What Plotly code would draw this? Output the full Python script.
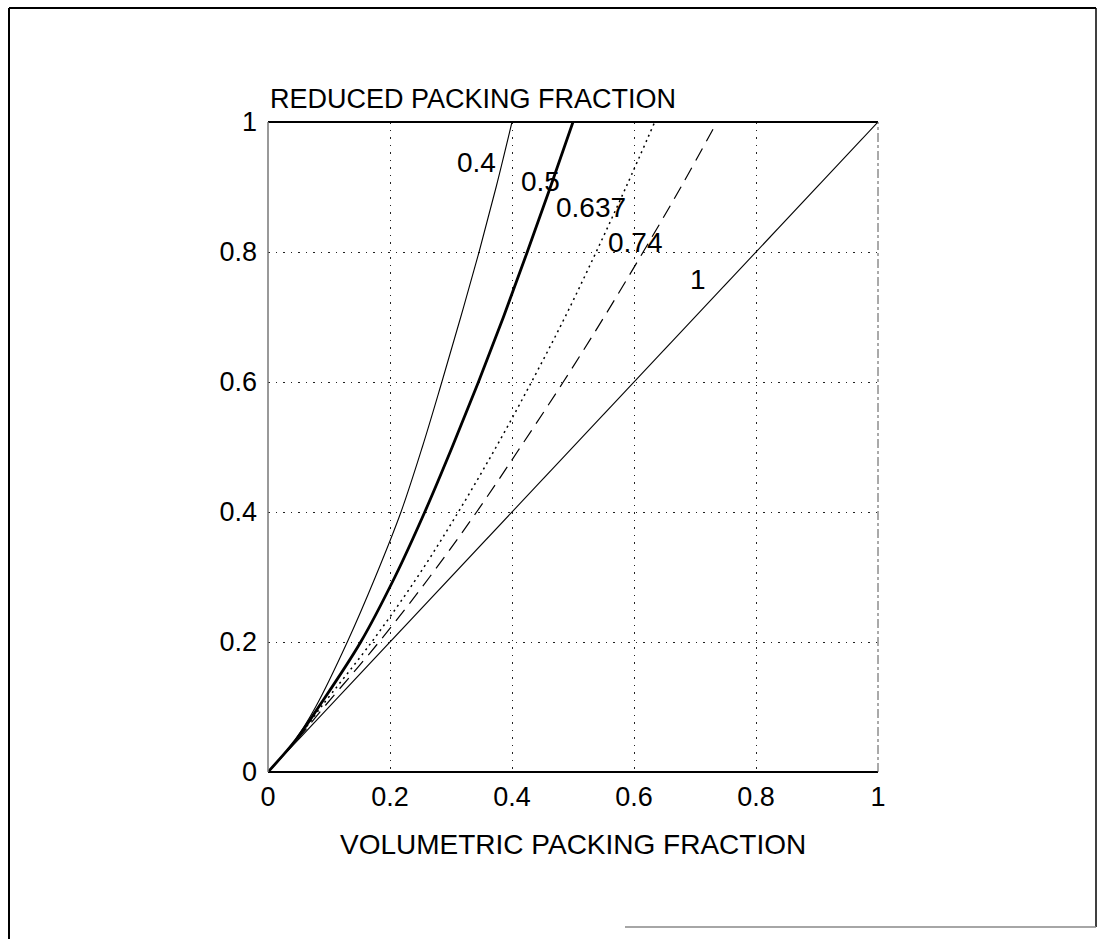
import plotly.graph_objects as go

# Reduced packing fraction versus volumetric packing fraction,
# one curve per maximum packing fraction.
y_levels = [0, 0.05, 0.1, 0.2, 0.3, 0.4, 0.5, 0.6, 0.7, 0.8, 0.9, 1.0]

x_040 = [0, 0.045, 0.078, 0.130, 0.176, 0.218, 0.253, 0.285, 0.316, 0.346, 0.374, 0.400]
x_050 = [0, 0.046, 0.083, 0.152, 0.208, 0.257, 0.302, 0.345, 0.386, 0.425, 0.463, 0.500]
x_0637 = [0, 0.047, 0.087, 0.170, 0.245, 0.312, 0.374, 0.432, 0.487, 0.538, 0.587, 0.634]
x_074 = [0, 0.048, 0.092, 0.182, 0.265, 0.342, 0.414, 0.484, 0.551, 0.615, 0.677, 0.736]

x_100 = [0, 1.0]
y_100 = [0, 1.0]

curve_labels = ["0.4", "0.5", "0.637", "0.74", "1"]
label_x = [0.341, 0.446, 0.530, 0.603, 0.705]
label_y = [0.938, 0.909, 0.869, 0.815, 0.757]

tick_vals = [0, 0.2, 0.4, 0.6, 0.8, 1.0]
tick_text = ["0", "0.2", "0.4", "0.6", "0.8", "1"]

FONT = "Liberation Sans, Arial, sans-serif"
TICK_FS = 27
LABEL_FS = 28

fig = go.Figure()

styles = [
    (x_040, y_levels, dict(color="black", width=1.1)),
    (x_050, y_levels, dict(color="black", width=2.8)),
    (x_0637, y_levels, dict(color="black", width=1.5, dash="2px,4px")),
    (x_074, y_levels, dict(color="black", width=1.2, dash="14px,8px")),
    (x_100, y_100, dict(color="black", width=1.1)),
]
for xs, ys, ln in styles:
    fig.add_trace(go.Scatter(x=xs, y=ys, mode="lines",
                             line=dict(shape="spline", smoothing=1.0, **ln),
                             showlegend=False, hoverinfo="skip"))

for txt, lx, ly in zip(curve_labels, label_x, label_y):
    fig.add_annotation(x=lx, y=ly, text=txt, showarrow=False, xref="x", yref="y",
                       font=dict(family=FONT, size=LABEL_FS, color="black"))

axis_common = dict(
    range=[0, 1], tickvals=tick_vals, ticktext=tick_text,
    showgrid=True, gridcolor="#222222", gridwidth=1.2, griddash="1.5px,6px",
    zeroline=False, showline=False, ticks="",
    tickfont=dict(family=FONT, size=TICK_FS, color="black"),
    fixedrange=True,
)

fig.update_layout(
    width=1105, height=939,
    margin=dict(l=268, r=227, t=122, b=167),
    paper_bgcolor="white", plot_bgcolor="white",
    xaxis=dict(**axis_common, ticklabelstandoff=6),
    yaxis=dict(**axis_common, ticklabelstandoff=10),
)

# Axis titles
fig.add_annotation(x=0, y=(772 - 99) / 650, xref="paper", yref="paper", xanchor="left", yanchor="middle",
                   text="REDUCED PACKING FRACTION", showarrow=False,
                   font=dict(family=FONT, size=27, color="black"))
fig.add_annotation(x=0.5, y=(772 - 844) / 650, xref="paper", yref="paper", xanchor="center", yanchor="middle",
                   text="VOLUMETRIC PACKING FRACTION", showarrow=False,
                   font=dict(family=FONT, size=28, color="black"))

# Plot frame
frame = [
    (0, 1, 1, 1, "black", 2, "solid"),
    (0, 0, 1, 0, "black", 2, "solid"),
    (0, 0, 0, 1, "#777777", 1.5, "solid"),
    (1, 0, 1, 1, "#555555", 1, "dashdot"),
]
for x0, y0, x1, y1, c, w, d in frame:
    fig.add_shape(type="line", xref="paper", yref="paper", x0=x0, y0=y0, x1=x1, y1=y1,
                  line=dict(color=c, width=w, dash=d))

# Outer page border
def px_x(p):
    return (p - 268) / 610

def px_y(p):
    return (772 - p) / 650

border = [
    (9, 8, 1096, 8, "black", 2),
    (9, 8, 9, 939, "black", 2),
    (1096, 8, 1096, 927, "black", 1.5),
    (625, 927, 1096, 927, "#888888", 1.5),
]
for a, b, c2, d2, col, w in border:
    fig.add_shape(type="line", xref="paper", yref="paper", x0=px_x(a), y0=px_y(b), x1=px_x(c2), y1=px_y(d2),
                  line=dict(color=col, width=w))

fig.write_html("out.html")
